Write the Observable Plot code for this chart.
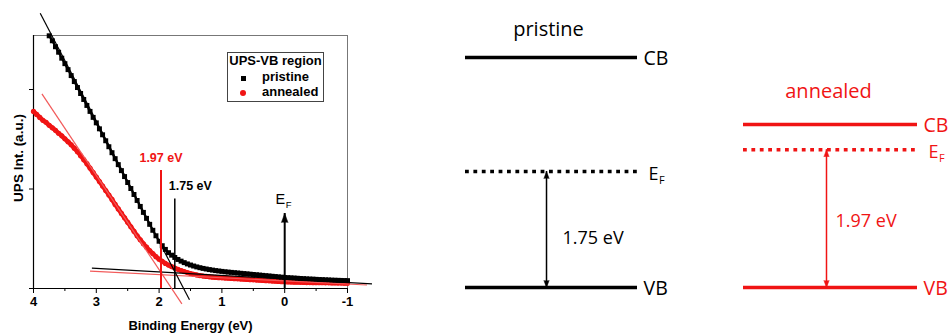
<!DOCTYPE html>
<html><head><meta charset="utf-8">
<script src="https://cdn.jsdelivr.net/npm/d3@7"></script>
<script src="https://cdn.jsdelivr.net/npm/@observablehq/plot@0.6"></script>
<style>
html,body{margin:0;padding:0;background:#fff;}
#root{position:relative;width:952px;height:333px;overflow:hidden;background:#fff;}
.panel{position:absolute;top:0;}
.panel svg{display:block;overflow:visible;}
.legend{position:absolute;left:227px;top:52px;width:97px;height:50px;box-sizing:border-box;border:1px solid #444;background:#fff;font:bold 13px 'Liberation Sans',Arial,sans-serif;color:#000;}
.legend div{position:absolute;line-height:13px;white-space:nowrap;}
.legend .sq{position:absolute;width:5px;height:5px;background:#000;}
.legend .ci{position:absolute;width:6px;height:6px;border-radius:50%;background:#f01414;}
</style></head><body><div id="root"></div>
<script>
// ---------- data ----------
const pristineBE = [3.75,3.70,3.65,3.60,3.55,3.50,3.45,3.40,3.35,3.30,3.25,3.20,3.15,3.10,3.05,3.00,2.95,2.90,2.85,2.80,2.75,2.70,2.65,2.60,2.55,2.50,2.45,2.40,2.35,2.30,2.25,2.20,2.15,2.10,2.05,2.00,1.95,1.90,1.85,1.80,1.75,1.70,1.65,1.60,1.55,1.50,1.45,1.40,1.35,1.30,1.25,1.20,1.15,1.10,1.05,1.00,0.95,0.90,0.85,0.80,0.75,0.70,0.65,0.60,0.55,0.50,0.45,0.40,0.35,0.30,0.25,0.20,0.15,0.10,0.05,0.00,-0.05,-0.10,-0.15,-0.20,-0.25,-0.30,-0.35,-0.40,-0.45,-0.50,-0.55,-0.60,-0.65,-0.70,-0.75,-0.80,-0.85,-0.90,-0.95,-1.00];
const pristineInt = [2.54,2.49,2.43,2.375,2.315,2.26,2.20,2.14,2.08,2.02,1.96,1.90,1.84,1.78,1.72,1.665,1.605,1.545,1.485,1.425,1.365,1.305,1.245,1.185,1.125,1.065,1.005,0.945,0.885,0.825,0.765,0.705,0.645,0.585,0.53,0.475,0.43,0.393,0.36,0.335,0.312,0.292,0.275,0.26,0.247,0.236,0.226,0.217,0.209,0.202,0.196,0.19,0.185,0.18,0.176,0.172,0.168,0.165,0.162,0.159,0.156,0.153,0.15,0.147,0.144,0.141,0.138,0.135,0.132,0.129,0.126,0.123,0.12,0.117,0.114,0.111,0.109,0.107,0.105,0.103,0.101,0.099,0.097,0.095,0.094,0.092,0.09,0.089,0.087,0.086,0.084,0.083,0.082,0.081,0.08,0.079];
const annealedBE = [4.00,3.95,3.90,3.85,3.80,3.75,3.70,3.65,3.60,3.55,3.50,3.45,3.40,3.35,3.30,3.25,3.20,3.15,3.10,3.05,3.00,2.95,2.90,2.85,2.80,2.75,2.70,2.65,2.60,2.55,2.50,2.45,2.40,2.35,2.30,2.25,2.20,2.15,2.10,2.05,2.00,1.95,1.90,1.85,1.80,1.75,1.70,1.65,1.60,1.55,1.50,1.45,1.40,1.35,1.30,1.25,1.20,1.15,1.10,1.05,1.00,0.95,0.90,0.85,0.80,0.75,0.70,0.65,0.60,0.55,0.50,0.45,0.40,0.35,0.30,0.25,0.20,0.15,0.10,0.05,0.00,-0.05,-0.10,-0.15,-0.20,-0.25,-0.30,-0.35,-0.40,-0.45,-0.50,-0.55,-0.60,-0.65,-0.70,-0.75,-0.80,-0.85,-0.90,-0.95,-1.00];
const annealedInt = [1.78,1.75,1.72,1.69,1.67,1.64,1.615,1.59,1.56,1.535,1.505,1.475,1.445,1.41,1.375,1.335,1.295,1.255,1.21,1.165,1.12,1.075,1.03,0.985,0.94,0.895,0.845,0.80,0.755,0.71,0.665,0.62,0.575,0.53,0.49,0.45,0.415,0.38,0.35,0.32,0.295,0.272,0.252,0.235,0.22,0.206,0.193,0.181,0.17,0.16,0.151,0.143,0.136,0.13,0.125,0.121,0.117,0.114,0.111,0.109,0.107,0.105,0.103,0.101,0.099,0.097,0.095,0.093,0.091,0.089,0.087,0.085,0.083,0.081,0.079,0.077,0.075,0.073,0.071,0.069,0.067,0.066,0.065,0.064,0.063,0.062,0.061,0.06,0.06,0.059,0.059,0.058,0.058,0.057,0.057,0.056,0.056,0.055,0.055,0.054,0.054];

// linear fits (tangent and background) : series, start / end points
const fitSeries = ["pristine","annealed","pristine","annealed"];
const fitBE1 = [3.893, 3.866, 3.07, 3.10];
const fitY1  = [2.767, 1.957, 0.204, 0.174];
const fitBE2 = [1.516, 1.637, -1.39, -1.31];
const fitY2  = [-0.114, -0.154, 0.047, 0.035];

// onset markers
const onsetSeries = ["annealed","pristine"];
const onsetBE = [1.97, 1.75];
const onsetTop = [1.186, 0.90];
const onsetLabels = ["1.97 eV","1.75 eV"];
const fermiBE = [0];
const fermiTop = [0.754];

const xTicks = [4,3,2,1,0,-1];
const xMinorTicks = [3.5,2.5,1.5,0.5,-0.5];
const yTicks = [0,1,2];
const xLabel = "Binding Energy (eV)";
const yLabel = "UPS Int. (a.u.)";
const legendTitle = "UPS-VB region";
const seriesNames = ["pristine","annealed"];

// energy-level diagrams
const diagramTitles = ["pristine","annealed"];
const gapValues = [1.75, 1.97];       // VB -> EF (eV)
const cbLevels = [3.47, 2.33];        // schematic CB position above VB
const gapLabels = ["1.75 eV","1.97 eV"];
const levelNames = ["CB","VB"];

// ---------- styling / layout ----------
const RED = "#f01414";
const ARIAL = "'Liberation Sans', Arial, sans-serif";
const SANS = "'Open Sans', 'Noto Sans', sans-serif";

const root = document.getElementById("root");
function place(el, left){ const d=document.createElement("div"); d.className="panel"; d.style.left=left+"px"; d.appendChild(el); root.appendChild(d); }

const pristine = pristineBE.map((be,i)=>({be, v: pristineInt[i]}));
const annealed = annealedBE.map((be,i)=>({be, v: annealedInt[i]}));
const fits = fitSeries.map((s,i)=>({s, x1: fitBE1[i], y1: fitY1[i], x2: fitBE2[i], y2: fitY2[i]}));
const onsets = onsetSeries.map((s,i)=>({s, x: onsetBE[i], top: onsetTop[i], label: onsetLabels[i]}));
const fermi = fermiBE.map((x,i)=>({x, top: fermiTop[i]}));

const left = Plot.plot({
  width: 380, height: 333,
  marginLeft: 33, marginRight: 33, marginTop: 35, marginBottom: 45,
  style: {fontFamily: ARIAL, fontSize: "13px", color: "#000", background: "transparent", overflow: "visible"},
  x: {domain: [4, -1]},
  y: {domain: [0, 2.543]},
  marks: [
    Plot.frame({stroke: "#777"}),
    Plot.ruleY([0], {stroke: "#000", strokeWidth: 1.2}),
    Plot.ruleX([4], {stroke: "#000", strokeWidth: 1.2}),
    Plot.axisX(xMinorTicks, {tickSize: 3, tickFormat: () => "", label: null}),
    Plot.axisX(xTicks, {tickSize: 5, tickPadding: 3, tickFormat: d => String(d), fontWeight: "bold", fontSize: 13, label: null}),
    Plot.axisY(yTicks, {tickSize: 4, tickFormat: () => "", label: null}),
    Plot.line(annealed, {x: "be", y: "v", stroke: RED, strokeWidth: 4.5}),
    Plot.dot(annealed, {x: "be", y: "v", fill: RED, r: 2.6}),
    Plot.line(pristine, {x: "be", y: "v", stroke: "#000", strokeWidth: 2.2}),
    Plot.dot(pristine, {x: "be", y: "v", symbol: "square", fill: "#000", r: 2.8}),
    Plot.link(fits.filter(d => d.s === "annealed"), {x1: "x1", y1: "y1", x2: "x2", y2: "y2", stroke: "#f25a5a", strokeWidth: 1.2}),
    Plot.link(fits.filter(d => d.s === "pristine"), {x1: "x1", y1: "y1", x2: "x2", y2: "y2", stroke: "#000", strokeWidth: 1.2}),
    Plot.ruleX(onsets.filter(d => d.s === "annealed"), {x: "x", y1: 0, y2: "top", stroke: RED, strokeWidth: 2}),
    Plot.ruleX(onsets.filter(d => d.s === "pristine"), {x: "x", y1: 0, y2: "top", stroke: "#000", strokeWidth: 1.5}),
    Plot.text(onsets.filter(d => d.s === "annealed"), {x: "x", y: "top", text: "label", dy: -9, lineAnchor: "bottom", fill: RED, fontWeight: "bold", fontSize: 12.5}),
    Plot.text(onsets.filter(d => d.s === "pristine"), {x: "x", y: "top", text: "label", dx: -6, dy: -9, textAnchor: "start", lineAnchor: "bottom", fill: "#000", fontWeight: "bold", fontSize: 12.5}),
    Plot.ruleX(fermi, {x: "x", y1: 0, y2: "top", stroke: "#000", strokeWidth: 2}),
    Plot.vector(fermi, {x: "x", y: "top", shape: "spike", length: 9, r: 3.3, anchor: "end", fill: "#000", stroke: "#000", strokeWidth: 0.5}),
    Plot.text(fermi, {x: "x", y: "top", text: () => "E", dx: 0.5, dy: -9, textAnchor: "end", lineAnchor: "bottom", fontSize: 14.5, fill: "#000"}),
    Plot.text(fermi, {x: "x", y: "top", text: () => "F", dx: 1, dy: -5.5, textAnchor: "start", lineAnchor: "bottom", fontSize: 9.5, fill: "#000"}),
    Plot.text([yLabel], {frameAnchor: "left", rotate: -90, textAnchor: "middle", dx: -10.5, dy: -4, lineAnchor: "bottom", fontWeight: "bold", fontSize: 13.5, fill: "#000"}),
    Plot.text([xLabel], {frameAnchor: "bottom", lineAnchor: "bottom", dy: 41.5, fontWeight: "bold", fontSize: 13, fill: "#000"})
  ]
});
place(left, 0);

// legend
const lg = document.createElement("div");
lg.className = "legend";
lg.innerHTML = `<div style="left:0;width:95px;text-align:center;top:1px">${legendTitle}</div>
<span class="sq" style="left:13px;top:23px"></span><div style="left:34px;top:17px">${seriesNames[0]}</div>
<span class="ci" style="left:12px;top:37px"></span><div style="left:34px;top:32px">${seriesNames[1]}</div>`;
root.appendChild(lg);

// diagrams
const layout = [
  {left: 430, width: 260, ml: 35, mr: 53, mt: 57, color: "#000", arrowX: 0.471, labelDx: 16, labelDy: 14.3, titleDx: -3, titleDy: -22},
  {left: 700, width: 252, ml: 43, mr: 35, mt: 124, color: RED, arrowX: 0.477, labelDx: 9, labelDy: 8.7, titleDx: -2, titleDy: -27}
];
diagramTitles.forEach((title, i) => {
  const L = layout[i];
  const levels = [{name: levelNames[0], e: cbLevels[i]}, {name: levelNames[1], e: 0}];
  const ef = [{e: gapValues[i], x: L.arrowX, label: gapLabels[i]}];
  const svg = Plot.plot({
    width: L.width, height: 333,
    marginLeft: L.ml, marginRight: L.mr, marginTop: L.mt, marginBottom: 46,
    style: {fontFamily: SANS, color: L.color, background: "transparent", overflow: "visible"},
    x: {domain: [0, 1], axis: null},
    y: {domain: [0, cbLevels[i]], axis: null},
    marks: [
      Plot.ruleY(levels, {y: "e", stroke: L.color, strokeWidth: 3.5}),
      Plot.ruleY(ef, {y: "e", stroke: L.color, strokeWidth: 3.5, strokeDasharray: "3.8,4.6"}),
      Plot.ruleX(ef, {x: "x", y1: 0, y2: "e", stroke: L.color, strokeWidth: 1.5}),
      Plot.vector(ef, {x: "x", y: "e", shape: "spike", length: 7, r: 2.6, anchor: "end", fill: L.color, stroke: L.color, strokeWidth: 0.5}),
      Plot.vector(ef, {x: "x", y: 0, shape: "spike", length: 7, r: 2.6, rotate: 180, anchor: "end", fill: L.color, stroke: L.color, strokeWidth: 0.5}),
      Plot.text(levels, {y: "e", text: "name", frameAnchor: "right", textAnchor: "start", lineAnchor: "middle", dx: 6, dy: 1, fontSize: 19.5, fill: L.color}),
      Plot.text(ef, {y: "e", text: () => "E", frameAnchor: "right", textAnchor: "start", lineAnchor: "bottom", dx: 11, dy: 8.5, fontSize: 18, fill: L.color}),
      Plot.text(ef, {y: "e", text: () => "F", frameAnchor: "right", textAnchor: "start", lineAnchor: "bottom", dx: 21.5, dy: 12, fontSize: 11, fill: L.color}),
      Plot.text(ef, {x: "x", y: d => d.e / 2, text: "label", textAnchor: "start", lineAnchor: "bottom", dx: L.labelDx, dy: L.labelDy, fontSize: 18, fill: L.color}),
      Plot.text([title], {frameAnchor: "top", lineAnchor: "bottom", dx: L.titleDx, dy: L.titleDy, fontSize: 20, fill: L.color})
    ]
  });
  place(svg, L.left);
});
</script>
</body></html>
